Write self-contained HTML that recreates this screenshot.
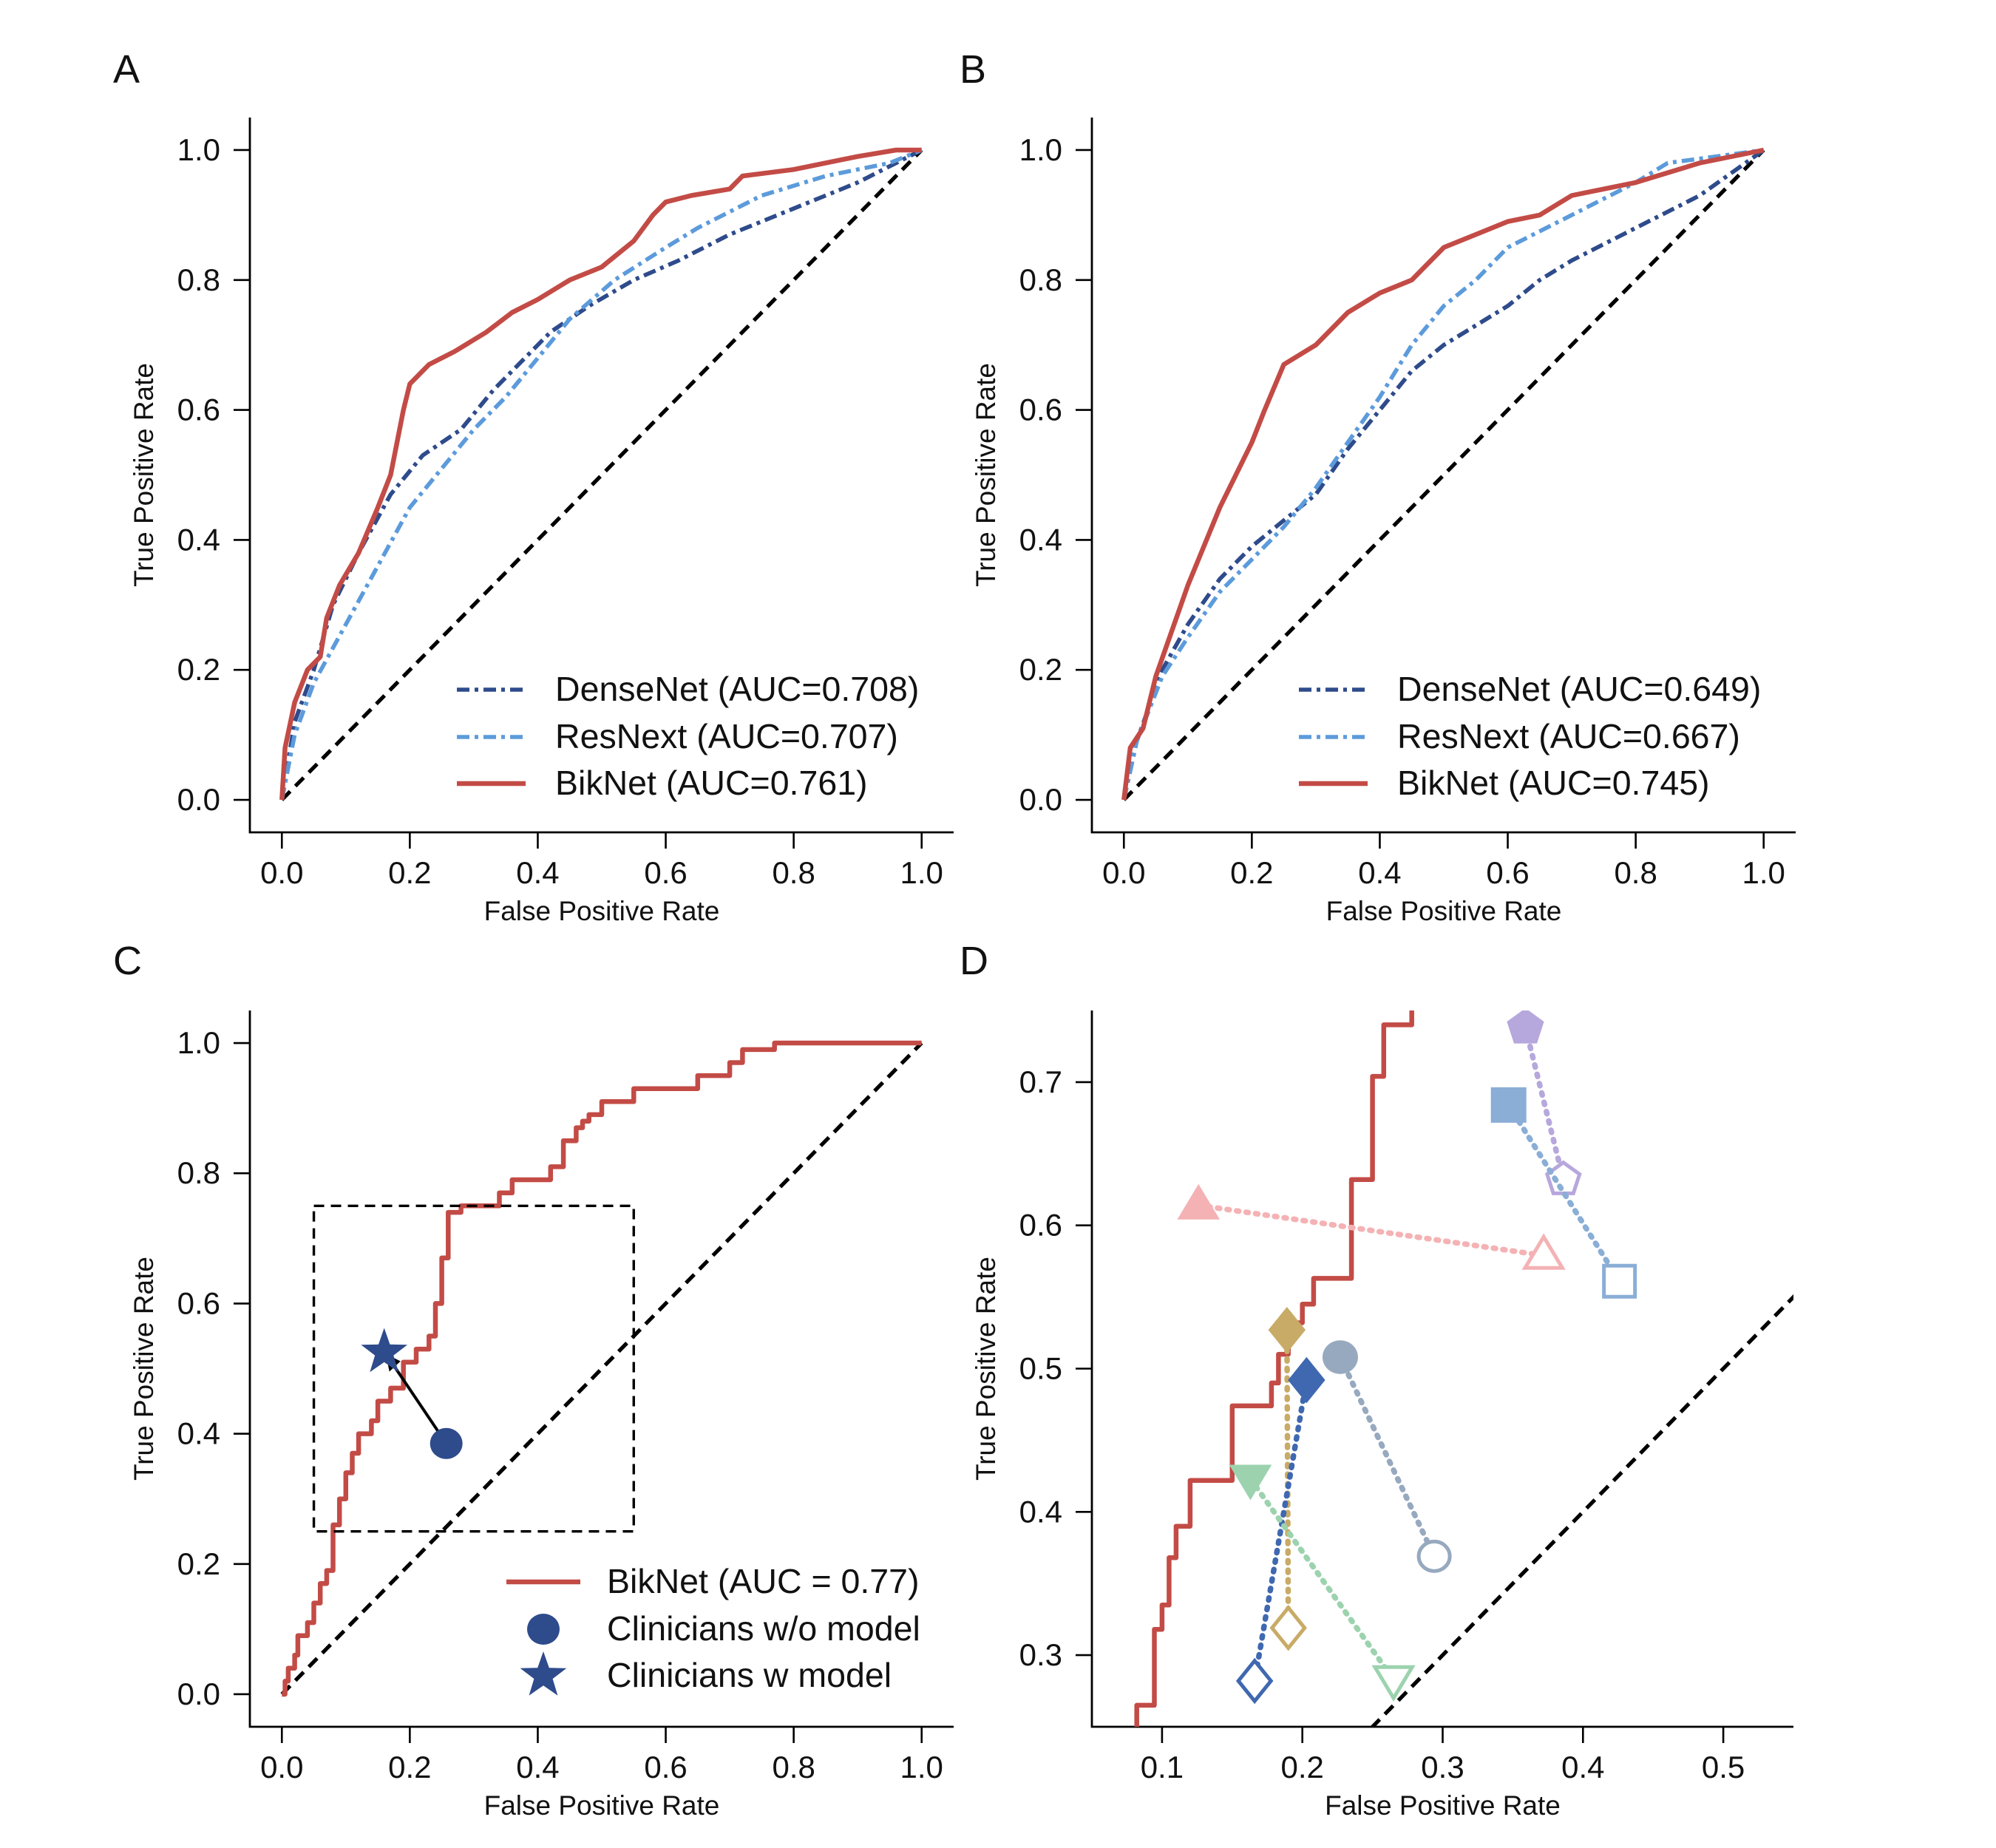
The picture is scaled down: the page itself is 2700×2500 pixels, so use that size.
<!DOCTYPE html>
<html><head><meta charset="utf-8">
<style>
html,body{margin:0;padding:0;background:#fff;overflow:hidden;width:2700px;height:2500px;}
svg{display:block;}
text{font-family:"Liberation Sans",Arial,sans-serif;fill:#111;}
</style></head>
<body>
<svg id="fig" width="2700" height="2500" viewBox="0 0 2700 2500" xmlns="http://www.w3.org/2000/svg"></svg>
<script>
// ---- data ----
const aBikX=[0,0.005,0.02,0.04,0.06,0.07,0.09,0.12,0.15,0.17,0.19,0.2,0.23,0.27,0.32,0.36,0.4,0.45,0.5,0.55,0.58,0.6,0.64,0.7,0.72,0.8,0.9,0.96,1];
const aBikY=[0,0.08,0.15,0.2,0.22,0.28,0.33,0.38,0.45,0.5,0.6,0.64,0.67,0.69,0.72,0.75,0.77,0.8,0.82,0.86,0.9,0.92,0.93,0.94,0.96,0.97,0.99,1,1];
const aDenX=[0,0.02,0.05,0.08,0.12,0.17,0.22,0.28,0.33,0.38,0.42,0.48,0.55,0.62,0.7,0.8,0.9,1];
const aDenY=[0,0.12,0.2,0.3,0.38,0.47,0.53,0.57,0.63,0.68,0.72,0.76,0.8,0.83,0.87,0.91,0.95,1];
const aResX=[0,0.02,0.05,0.1,0.15,0.2,0.25,0.3,0.35,0.4,0.45,0.52,0.6,0.65,0.75,0.85,0.95,1];
const aResY=[0,0.1,0.18,0.27,0.36,0.45,0.51,0.57,0.62,0.68,0.74,0.8,0.85,0.88,0.93,0.96,0.98,1];
const bBikX=[0,0.01,0.03,0.05,0.1,0.15,0.2,0.22,0.25,0.3,0.35,0.4,0.45,0.5,0.55,0.6,0.65,0.7,0.8,0.9,1];
const bBikY=[0,0.08,0.11,0.19,0.33,0.45,0.55,0.6,0.67,0.7,0.75,0.78,0.8,0.85,0.87,0.89,0.9,0.93,0.95,0.98,1];
const bDenX=[0,0.02,0.06,0.1,0.15,0.2,0.25,0.3,0.35,0.4,0.45,0.5,0.55,0.6,0.65,0.7,0.8,0.9,1];
const bDenY=[0,0.09,0.2,0.27,0.34,0.39,0.43,0.47,0.54,0.6,0.66,0.7,0.73,0.76,0.8,0.83,0.88,0.93,1];
const bResX=[0,0.02,0.06,0.1,0.15,0.2,0.25,0.3,0.35,0.4,0.45,0.5,0.55,0.6,0.7,0.8,0.85,1];
const bResY=[0,0.09,0.19,0.25,0.32,0.37,0.42,0.48,0.55,0.62,0.7,0.76,0.8,0.85,0.9,0.95,0.98,1];
const cStepX=[0,0.005,0.01,0.02,0.025,0.04,0.05,0.06,0.07,0.08,0.09,0.1,0.11,0.12,0.14,0.15,0.17,0.19,0.21,0.23,0.24,0.25,0.26,0.28,0.34,0.36,0.42,0.44,0.46,0.47,0.48,0.5,0.55,0.65,0.7,0.72,0.77,1];
const cStepY=[0,0.02,0.04,0.06,0.09,0.11,0.14,0.17,0.19,0.26,0.3,0.34,0.37,0.4,0.42,0.45,0.47,0.51,0.53,0.55,0.6,0.67,0.74,0.75,0.77,0.79,0.81,0.85,0.87,0.88,0.89,0.91,0.93,0.95,0.97,0.99,1,1];
const cNoModel=[0.257,0.385];
const cWithModel=[0.16,0.525];
const dStepX=[0.082,0.0945,0.1,0.105,0.11,0.12,0.15,0.178,0.183,0.19,0.2,0.208,0.235,0.25,0.258,0.278];
const dStepY=[0.265,0.318,0.335,0.368,0.39,0.422,0.474,0.49,0.51,0.532,0.545,0.563,0.632,0.704,0.74,0.76];
const dNames=["reader-1","reader-2","reader-3","reader-4","reader-5","reader-6","reader-7"];
const dShapes=["pentagon","square","triangle","diamond","circle","diamond","tridown"];
const dColors=["#b6a7dc","#8aaed6","#f4b2b4","#c8ab66","#97a9bf","#3f68b0","#9cd3ae"];
const dWithX=[0.359,0.347,0.126,0.189,0.227,0.203,0.163];
const dWithY=[0.738,0.684,0.614,0.527,0.508,0.492,0.423];
const dWoX=[0.386,0.426,0.372,0.19,0.294,0.166,0.265];
const dWoY=[0.632,0.561,0.579,0.319,0.369,0.282,0.283];
const ticks01=[0,0.2,0.4,0.6,0.8,1.0];
const tickLab01=["0.0","0.2","0.4","0.6","0.8","1.0"];
const dXT=[0.1,0.2,0.3,0.4,0.5];
const dXL=["0.1","0.2","0.3","0.4","0.5"];
const dYT=[0.3,0.4,0.5,0.6,0.7];
const dYL=["0.3","0.4","0.5","0.6","0.7"];

const RED="#c34b46",DEN="#2e4b8b",RES="#5c9bdb";
const DD='17,7,5,7';
const svg=document.getElementById('fig');
const NS="http://www.w3.org/2000/svg";
function el(tag,attrs,parent){const e=document.createElementNS(NS,tag);for(const k in attrs)e.setAttribute(k,attrs[k]);(parent||svg).appendChild(e);return e;}

function makeAxes(name,L,T,R,B,x0,x1,y0,y1){
  const g=el('g',{});
  
  
  const sx=v=>L+(v-x0)/(x1-x0)*(R-L);
  const sy=v=>B-(v-y0)/(y1-y0)*(B-T);
  return {g,sx,sy,L,T,R,B};
}
function spines(ax,xt,xl,yt,yl){
  const {g,sx,sy,L,T,R,B}=ax;
  const s=el('path',{d:`M${L},${T} L${L},${B} L${R},${B}`,stroke:'#000','stroke-width':2.8,fill:'none'},g);
  
  
  xt.forEach((v,i)=>{const x=sx(v);
    el('line',{x1:x,x2:x,y1:B,y2:B+22,stroke:'#000','stroke-width':2.6},g);
    const t=el('text',{x:x,y:B+69,'text-anchor':'middle','font-size':42},g);t.textContent=xl[i];
    
    });
  yt.forEach((v,i)=>{const y=sy(v);
    el('line',{x1:L-22,x2:L,y1:y,y2:y,stroke:'#000','stroke-width':2.6},g);
    const t=el('text',{x:L-40,y:y+14,'text-anchor':'end','font-size':42},g);t.textContent=yl[i];
    
    });
  const xlab=el('text',{x:(L+R)/2,y:B+119,'text-anchor':'middle','font-size':37},g);xlab.textContent='False Positive Rate';
  
  
  const cy=(T+B)/2, lx=L-131;
  const ylab=el('text',{x:lx,y:cy,'text-anchor':'middle','font-size':37,transform:`rotate(-90 ${lx} ${cy})`},g);ylab.textContent='True Positive Rate';
  
  
}
function line(ax,xs,ys,color,w,dash,name){
  const d=xs.map((v,i)=>(i?'L':'M')+ax.sx(v).toFixed(1)+','+ax.sy(ys[i]).toFixed(1)).join(' ');
  const p=el('path',{d,stroke:color,'stroke-width':w,fill:'none','stroke-dasharray':dash||'none','stroke-linejoin':'round'},ax.g);
  
  
  return p;
}
function stepPts(xs,ys){const X=[xs[0]],Y=[ys[0]];for(let i=1;i<xs.length;i++){X.push(xs[i]);Y.push(ys[i-1]);X.push(xs[i]);Y.push(ys[i]);}return [X,Y];}
function letter(t,x,y){const e=el('text',{x,y,'font-size':54});e.textContent=t;
  
  }
function legendLine(g,x,y,color,dash,w,label){
  const l=el('line',{x1:x,x2:x+93,y1:y,y2:y,stroke:color,'stroke-width':w,'stroke-dasharray':dash||'none'},g);
  
  
  const t=el('text',{x:x+133,y:y+15,'font-size':46.5},g);t.textContent=label;
  
  
}
function rocPanel(name,L,letterX,den,res,bik,labs){
  const R=L+952;
  const ax=makeAxes(name,L,159,R,1126,-0.05,1.05,-0.05,1.05);
  spines(ax,ticks01,tickLab01,ticks01,tickLab01);
  line(ax,[0,1],[0,1],'#000',5.2,'16,10','chance-line');
  line(ax,den[0],den[1],DEN,5.6,DD,'densenet-curve');
  line(ax,res[0],res[1],RES,5.6,DD,'resnext-curve');
  line(ax,bik[0],bik[1],RED,6.5,null,'biknet-curve');
  const lg=el('g',{},ax.g);
  
  
  legendLine(lg,L+280,933,DEN,DD,5.6,labs[0]);
  legendLine(lg,L+280,997,RES,DD,5.6,labs[1]);
  legendLine(lg,L+280,1060,RED,null,6.5,labs[2]);
  letter(name==='panel-a'?'A':'B',letterX,112);
}
rocPanel('panel-a',338,153,[aDenX,aDenY],[aResX,aResY],[aBikX,aBikY],["DenseNet (AUC=0.708)","ResNext (AUC=0.707)","BikNet (AUC=0.761)"]);
rocPanel('panel-b',1477,1298,[bDenX,bDenY],[bResX,bResY],[bBikX,bBikY],["DenseNet (AUC=0.649)","ResNext (AUC=0.667)","BikNet (AUC=0.745)"]);

function starPath(cx,cy,r){let d='';for(let i=0;i<10;i++){const a=-Math.PI/2+i*Math.PI/5;const rr=i%2?r*0.4:r;d+=(i?'L':'M')+(cx+rr*Math.cos(a)).toFixed(1)+','+(cy+rr*Math.sin(a)).toFixed(1);}return d+'Z';}

// Panel C
(function(){
  const ax=makeAxes('panel-c',338,1367,1290,2336,-0.05,1.05,-0.05,1.05);
  spines(ax,ticks01,tickLab01,ticks01,tickLab01);
  line(ax,[0,1],[0,1],'#000',5.2,'16,10','chance-line');
  const s=stepPts(cStepX,cStepY);
  line(ax,s[0],s[1],RED,6.5,null,'biknet-curve');
  const r=el('rect',{x:ax.sx(0.05),y:ax.sy(0.75),width:ax.sx(0.55)-ax.sx(0.05),height:ax.sy(0.25)-ax.sy(0.75),fill:'none',stroke:'#000','stroke-width':3.4,'stroke-dasharray':'14,9'},ax.g);
  
  
  const cx=ax.sx(cNoModel[0]),cy=ax.sy(cNoModel[1]),tx=ax.sx(cWithModel[0]),ty=ax.sy(cWithModel[1]);
  const ar=el('line',{x1:cx,y1:cy,x2:tx+7,y2:ty+9,stroke:'#000','stroke-width':4},ax.g);
  
  
  const ah=el('path',{d:`M${tx+2},${ty+2} L${tx+7},${ty+26} L${tx+22},${ty+12}Z`,fill:'#000'},ax.g);
  
  
  const c=el('ellipse',{cx,cy,rx:22,ry:21,fill:DEN},ax.g);
  
  
  const st=el('path',{d:starPath(tx,ty,33),fill:DEN},ax.g);
  
  
  const lg=el('g',{},ax.g);
  
  
  const l=el('line',{x1:685,x2:785,y1:2140,y2:2140,stroke:RED,'stroke-width':6.5},lg);
  
  
  const m1=el('ellipse',{cx:735,cy:2204,rx:22,ry:21,fill:DEN},lg);
  
  
  const m2=el('path',{d:starPath(735,2267,33),fill:DEN},lg);
  
  
  [["BikNet (AUC = 0.77)",2155],["Clinicians w/o model",2219],["Clinicians w model",2282]].forEach(a=>{
    const t=el('text',{x:821,y:a[1],'font-size':46.5},lg);t.textContent=a[0];
    
    });
  letter('C',153,1318);
})();

// Panel D
function marker(g,shape,x,y,color,filled,sz){
  let d;const s=sz;
  if(shape==='circle'){const e=el('ellipse',{cx:x,cy:y,rx:s,ry:s*0.95,fill:filled?color:'#fff',stroke:color,'stroke-width':filled?0:5},g);return e;}
  if(shape==='square')d=`M${x-s},${y-s}h${2*s}v${2*s}h${-2*s}Z`;
  if(shape==='diamond')d=`M${x},${y-s*1.3}L${x+s*1.05},${y}L${x},${y+s*1.3}L${x-s*1.05},${y}Z`;
  if(shape==='triangle')d=`M${x},${y-s*1.2}L${x+s*1.2},${y+s*0.8}L${x-s*1.2},${y+s*0.8}Z`;
  if(shape==='tridown')d=`M${x},${y+s*1.2}L${x+s*1.2},${y-s*0.8}L${x-s*1.2},${y-s*0.8}Z`;
  if(shape==='pentagon'){d='';for(let i=0;i<5;i++){const a=-Math.PI/2+i*2*Math.PI/5;d+=(i?'L':'M')+(x+s*1.1*Math.cos(a)).toFixed(1)+','+(y+s*1.1*Math.sin(a)).toFixed(1);}d+='Z';}
  return el('path',{d,fill:filled?color:'#fff',stroke:color,'stroke-width':filled?0:5,'stroke-linejoin':'miter'},g);
}
(function(){
  const ax=makeAxes('panel-d',1477,1367,2426,2336,0.05,0.55,0.25,0.75);
  spines(ax,dXT,dXL,dYT,dYL);
  const clip=el('clipPath',{id:'dclip'},svg);
  el('rect',{x:1477,y:1367,width:949,height:969},clip);
  const cg=el('g',{'clip-path':'url(#dclip)'},ax.g);
  
  
  const sub={g:cg,sx:ax.sx,sy:ax.sy};
  line(sub,[0,1],[0,1],'#000',5.2,'16,10','chance-line');
  const X=[dStepX[0]],Y=[0.2];
  for(let i=0;i<dStepX.length;i++){X.push(dStepX[i]);Y.push(dStepY[i]);if(i+1<dStepX.length){X.push(dStepX[i+1]);Y.push(dStepY[i]);}}
  line(sub,X,Y,RED,6.5,null,'biknet-curve');
  dNames.forEach((n,i)=>{
    const x1=ax.sx(dWithX[i]),y1=ax.sy(dWithY[i]),x2=ax.sx(dWoX[i]),y2=ax.sy(dWoY[i]);
    const l=el('line',{x1,y1,x2,y2,stroke:dColors[i],'stroke-width':7.5,'stroke-dasharray':'3,10','stroke-linecap':'round'},cg);
    
    
    const m1=marker(cg,dShapes[i],x1,y1,dColors[i],true,24);
    
    
    const m2=marker(cg,dShapes[i],x2,y2,dColors[i],false,21);
    
    
  });
  letter('D',1298,1318);
})();
</script>
</body></html>
